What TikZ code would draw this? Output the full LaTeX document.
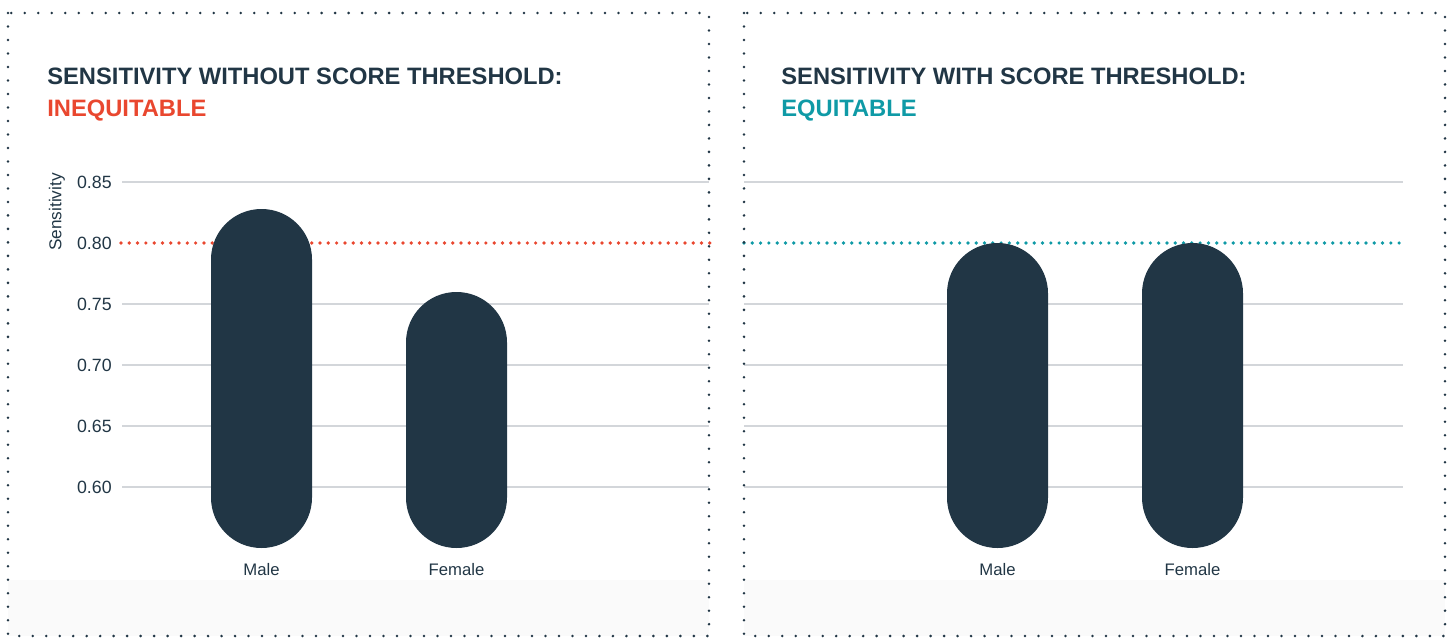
\documentclass[tikz,border=0pt]{standalone}
\usepackage{fontspec}
\setmainfont{Liberation Sans}
\definecolor{navy}{HTML}{213645}
\definecolor{ineq}{HTML}{E9472F}
\definecolor{eq}{HTML}{0F9AA6}
\definecolor{gridgray}{HTML}{D3D6DA}
\definecolor{band}{HTML}{FAFAFA}
\tikzset{
  border/.style={navy, line width=1.6pt, line cap=round, dash pattern=on 0pt off 7.68pt},
  gridline/.style={gridgray, line width=0.7pt},
  target/.style={line width=2.1pt, line cap=round, dash pattern=on 0pt off 4.72pt},
  pill/.style={fill=navy, rounded corners=28.7pt},
  title/.style={anchor=base west, inner sep=0pt, font=\fontsize{13.5}{15}\selectfont\bfseries},
  tick/.style={anchor=east, inner sep=0pt, text=navy, font=\fontsize{10.1}{12}\selectfont},
  barlabel/.style={inner sep=0pt, text=navy, font=\fontsize{9.5}{11}\selectfont}
}
\begin{document}
\begin{tikzpicture}[x=0.02cm, y=-0.02cm]
  \useasboundingbox (0,0) rectangle (1453,639);
  % bottom bands
  \fill[band] (8,580) rectangle (709,636);
  \fill[band] (744,580) rectangle (1445,636);
  % left panel
  \node[title, text=navy] (ltitle) at (47,84) {SENSITIVITY WITHOUT SCORE THRESHOLD:};
  \node[title, text=ineq] (lverdict) at (47,116) {INEQUITABLE};
  \draw[gridline] (122,182) -- (709,182);
  \draw[gridline] (122,304) -- (709,304);
  \draw[gridline] (122,365) -- (709,365);
  \draw[gridline] (122,426) -- (709,426);
  \draw[gridline] (122,487) -- (709,487);
  \node[tick] (l85) at (112,182) {0.85};
  \node[tick] (l80) at (112,243) {0.80};
  \node[tick] (l75) at (112,304) {0.75};
  \node[tick] (l70) at (112,365) {0.70};
  \node[tick] (l65) at (112,426) {0.65};
  \node[tick] (l60) at (112,487) {0.60};
  \node[barlabel, rotate=90, font=\fontsize{9.8}{11}\selectfont] (ylabel) at (57,212) {Sensitivity};
  \draw[target, ineq] (121,243) -- (711,243);
  \fill[pill] (211,209) rectangle (312,548);
  \fill[pill] (406,292) rectangle (507,548);
  \node[barlabel] (lmale) at (261.5,570) {Male};
  \node[barlabel] (lfemale) at (456.5,570) {Female};
  % right panel
  \node[title, text=navy] (rtitle) at (781,84) {SENSITIVITY WITH SCORE THRESHOLD:};
  \node[title, text=eq] (rverdict) at (781,116) {EQUITABLE};
  \draw[gridline] (744,182) -- (1403,182);
  \draw[gridline] (744,304) -- (1403,304);
  \draw[gridline] (744,365) -- (1403,365);
  \draw[gridline] (744,426) -- (1403,426);
  \draw[gridline] (744,487) -- (1403,487);
  \draw[target, eq] (744,243) -- (1405,243);
  \fill[pill] (947,243) rectangle (1048,548);
  \fill[pill] (1142,243) rectangle (1243,548);
  \node[barlabel] (rmale) at (997.5,570) {Male};
  \node[barlabel] (rfemale) at (1192.5,570) {Female};
  % dotted frames
  \draw[border] (8,13) rectangle (709,636);
  \draw[border] (744,13) rectangle (1445,636);
\end{tikzpicture}
\end{document}
